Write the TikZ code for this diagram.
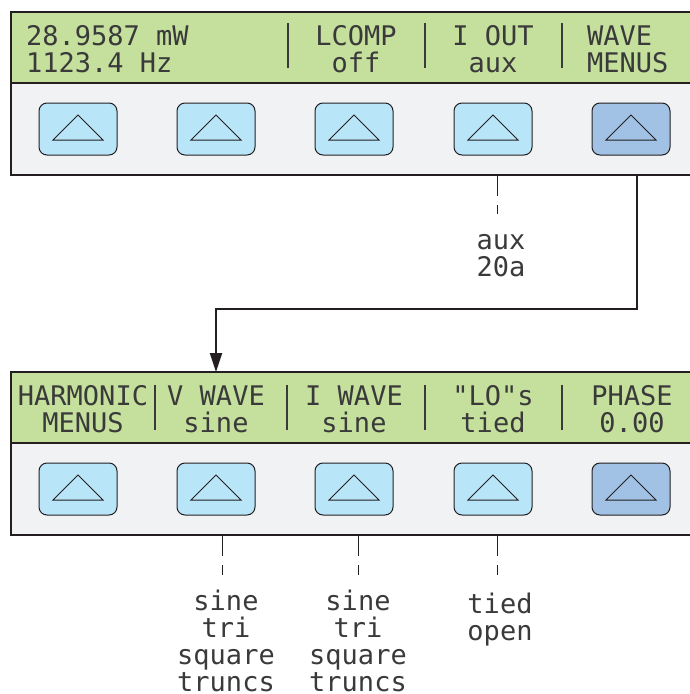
\documentclass[tikz,border=0pt]{standalone}
\usepackage{fontspec}
\newfontfamily\lcdfont{DejaVu Sans Mono}
\usetikzlibrary{arrows.meta}
\definecolor{lcdgreen}{HTML}{C5DF9D}
\definecolor{panelgray}{HTML}{F1F2F4}
\definecolor{btnblue}{HTML}{B9E5F9}
\definecolor{btndark}{HTML}{A1C2E5}
\definecolor{ink}{HTML}{231F20}
\definecolor{lcdtext}{HTML}{3A3A3A}
\begin{document}
\begin{tikzpicture}[x=1pt,y=-1pt,
  panel/.style={draw=ink, line width=1.3pt, fill=panelgray, anchor=north west,
    minimum width=720pt, minimum height=163pt, inner sep=0pt, outer sep=0pt},
  lcdstrip/.style={draw=ink, line width=1.3pt, fill=lcdgreen, anchor=north west,
    minimum width=720pt, minimum height=71pt, inner sep=0pt, outer sep=0pt},
  key/.style={draw=ink, line width=1pt, rounded corners=8pt, fill=btnblue,
    minimum width=78pt, minimum height=52pt, inner sep=0pt,
    path picture={\draw[ink, line width=1pt, sharp corners]
      ([xshift=-25pt,yshift=-11pt]path picture bounding box.center)
      -- ++(25pt,25pt) -- ++(25pt,-25pt) -- cycle;}},
  keydark/.style={key, fill=btndark},
  lcdlabel/.style={font=\lcdfont\fontsize{27}{27}\selectfont, text=lcdtext,
    align=center, inner sep=0pt, anchor=base},
  seplabel/.style={draw=lcdtext, line width=2.8pt},
  lead/.style={draw=ink, line width=1pt, dash pattern=on 21pt off 9pt on 10pt off 300pt},
  flow/.style={draw=ink, line width=2pt, -{Triangle[length=19pt,width=12pt]}}
]
\useasboundingbox (0,0) rectangle (690,694);
\clip (0,0) rectangle (690,694);

% ---------- top panel ----------
\node[panel] (p1) at (11,12) {};
\node[lcdstrip] (g1) at (11,12) {};
\node[key] (k11) at (78,129) {};
\node[key] (k12) at (216,129) {};
\node[key] (k13) at (354,129) {};
\node[key] (k14) at (493,129) {};
\node[keydark] (k15) at (631,129) {};

\node[lcdlabel, align=left, anchor=base west] (t11) at (26,72) {28.9587 mW\\1123.4 Hz};
\node[lcdlabel] (t13) at (356,72) {LCOMP\\off};
\node[lcdlabel] (t14) at (493,72) {I OUT\\aux};
\node[lcdlabel, align=left, anchor=base west] (t15) at (587,72) {WAVE\\MENUS};
\draw[seplabel] (288,23) -- (288,68);
\draw[seplabel] (425,23) -- (425,68);
\draw[seplabel] (562,23) -- (562,68);

% ---------- bottom panel ----------
\node[panel] (p2) at (11,372) {};
\node[lcdstrip] (g2) at (11,372) {};
\node[key] (k21) at (78,489) {};
\node[key] (k22) at (216,489) {};
\node[key] (k23) at (354,489) {};
\node[key] (k24) at (493,489) {};
\node[keydark] (k25) at (631,489) {};

\node[lcdlabel] (t21) at (83,432) {HARMONIC\\MENUS};
\node[lcdlabel] (t22) at (216,432) {V WAVE\\sine};
\node[lcdlabel] (t23) at (354,432) {I WAVE\\sine};
\node[lcdlabel] (t24) at (493,432) {"LO"s\\tied};
\node[lcdlabel] (t25) at (632,432) {PHASE\\0.00};
\draw[seplabel] (155,385) -- (155,430);
\draw[seplabel] (287,385) -- (287,430);
\draw[seplabel] (425,385) -- (425,430);
\draw[seplabel] (562,385) -- (562,430);

% ---------- option labels ----------
\node[lcdlabel] (o14) at (501,276) {aux\\20a};
\node[lcdlabel] (o22) at (226,691) {sine\\tri\\square\\truncs};
\node[lcdlabel] (o23) at (358,691) {sine\\tri\\square\\truncs};
\node[lcdlabel] (o24) at (500,640) {tied\\open};

% ---------- leads ----------
\coordinate (l14) at (497,175);
\coordinate (l22) at (222,535);
\coordinate (l23) at (358,535);
\coordinate (l24) at (497,535);
\draw[lead] (l14) -- (l14 |- 0,214);
\draw[lead] (l22) -- (l22 |- 0,579);
\draw[lead] (l23) -- (l23 |- 0,579);
\draw[lead] (l24) -- (l24 |- 0,579);

% ---------- flow connector ----------
\coordinate (f0) at (637,175);
\coordinate (f1) at (216,372);
\draw[flow] (f0) -- (637,309) -| (f1);
\end{tikzpicture}
\end{document}
